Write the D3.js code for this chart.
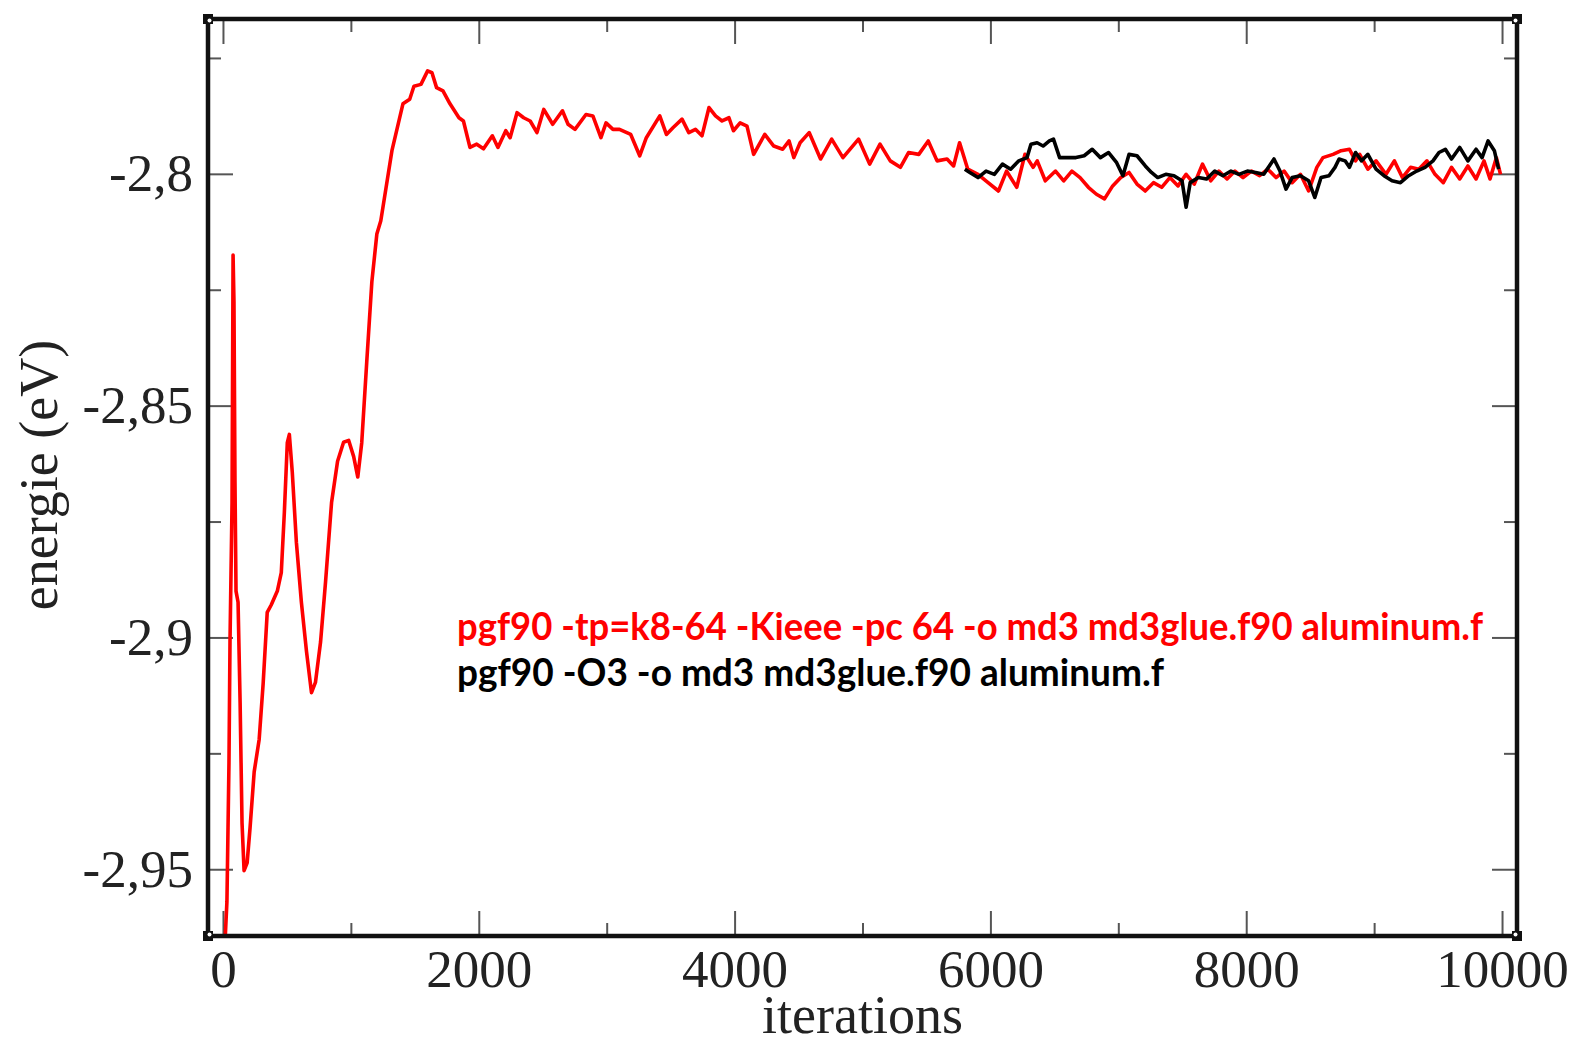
<!DOCTYPE html>
<html><head><meta charset="utf-8">
<script src="https://cdn.jsdelivr.net/npm/d3@7"></script>
<style>html,body{margin:0;padding:0;background:#fff;overflow:hidden}</style>
</head><body>
<svg id="chart" width="1576" height="1045"></svg>
<script>
// ---- data ----
const redIter = [0,31,47,55,71,79,86,94,102,118,134,149,165,189,212,244,283,314,346,377,425,456,480,503,519,542,574,613,653,692,723,763,802,849,896,943,983,1022,1054,1085,1124,1164,1203,1234,1321,1407,1460,1493,1548,1600,1634,1670,1720,1775,1845,1880,1931,1984,2037,2106,2150,2211,2245,2299,2351,2402,2455,2508,2578,2654,2698,2752,2838,2892,2955,2995,3049,3100,3188,3258,3310,3415,3467,3520,3589,3642,3694,3745,3800,3851,3902,3956,3991,4043,4097,4149,4236,4306,4376,4426,4463,4512,4583,4672,4759,4847,4969,5056,5137,5217,5296,5360,5440,5514,5583,5661,5712,5759,5823,5903,5982,6063,6126,6206,6270,6334,6366,6429,6509,6573,6637,6701,6766,6829,6892,6956,7019,7084,7146,7210,7275,7339,7403,7467,7530,7594,7658,7722,7786,7850,7912,7975,8041,8105,8169,8233,8296,8359,8424,8488,8552,8600,8679,8742,8807,8855,8887,8951,9015,9093,9158,9221,9285,9349,9413,9476,9541,9605,9669,9733,9797,9859,9906,9956,9988];
const redEnergy = [-2.975,-2.957,-2.927,-2.901,-2.871,-2.8175,-2.8276,-2.8665,-2.890,-2.8924,-2.914,-2.940,-2.9503,-2.9486,-2.941,-2.929,-2.922,-2.910,-2.8946,-2.893,-2.890,-2.886,-2.873,-2.858,-2.8562,-2.8644,-2.8795,-2.8924,-2.903,-2.9119,-2.9097,-2.901,-2.888,-2.8709,-2.862,-2.8579,-2.8575,-2.861,-2.8654,-2.858,-2.8406,-2.8233,-2.8130,-2.8101,-2.795,-2.7849,-2.7839,-2.7811,-2.7807,-2.7778,-2.7782,-2.7814,-2.7821,-2.7849,-2.7879,-2.7886,-2.7943,-2.7936,-2.7946,-2.7918,-2.7943,-2.7907,-2.7922,-2.7868,-2.7879,-2.7886,-2.7911,-2.7861,-2.7893,-2.7864,-2.7893,-2.7904,-2.7872,-2.7875,-2.7922,-2.7890,-2.7904,-2.7904,-2.7915,-2.7961,-2.7922,-2.7875,-2.7915,-2.7900,-2.7882,-2.7911,-2.7904,-2.7918,-2.7857,-2.7875,-2.7886,-2.7879,-2.7907,-2.7890,-2.7897,-2.7958,-2.7915,-2.7940,-2.7947,-2.7929,-2.7965,-2.7933,-2.7911,-2.7968,-2.7925,-2.7965,-2.7925,-2.7979,-2.7936,-2.7972,-2.7986,-2.7954,-2.7958,-2.7929,-2.7972,-2.7968,-2.7983,-2.7933,-2.7990,-2.8001,-2.8019,-2.8037,-2.7994,-2.8029,-2.7958,-2.7986,-2.7972,-2.8015,-2.7994,-2.8015,-2.7994,-2.8008,-2.8029,-2.8044,-2.8054,-2.8026,-2.8008,-2.7997,-2.8022,-2.8037,-2.8019,-2.8029,-2.8008,-2.8026,-2.8001,-2.8022,-2.7979,-2.8015,-2.7994,-2.8011,-2.7994,-2.8008,-2.7994,-2.8004,-2.7990,-2.8008,-2.7994,-2.8019,-2.8001,-2.8037,-2.7986,-2.7965,-2.7958,-2.7950,-2.7947,-2.7972,-2.7958,-2.7990,-2.7972,-2.8001,-2.7972,-2.8008,-2.7986,-2.7990,-2.7972,-2.8001,-2.8019,-2.7986,-2.8011,-2.7983,-2.8011,-2.7972,-2.8011,-2.7965,-2.8001];
const blackIter = [5800,5839,5903,5966,6031,6094,6158,6222,6286,6317,6365,6412,6461,6493,6541,6605,6669,6733,6796,6860,6924,6987,7036,7084,7146,7211,7259,7308,7371,7435,7498,7530,7562,7626,7690,7754,7818,7881,7943,8009,8073,8137,8217,8264,8311,8359,8424,8488,8536,8585,8647,8694,8726,8773,8807,8855,8902,8951,9015,9077,9140,9206,9270,9333,9398,9460,9507,9557,9605,9669,9733,9797,9844,9891,9940,9973];
const blackEnergy = [-2.7990,-2.7997,-2.8008,-2.7994,-2.8001,-2.7979,-2.7990,-2.7972,-2.7965,-2.7936,-2.7933,-2.7940,-2.7929,-2.7925,-2.7965,-2.7965,-2.7965,-2.7961,-2.7947,-2.7965,-2.7954,-2.7976,-2.8004,-2.7958,-2.7961,-2.7983,-2.7997,-2.8008,-2.8001,-2.8004,-2.8015,-2.8072,-2.8019,-2.8008,-2.8011,-2.7994,-2.8004,-2.7994,-2.8001,-2.7994,-2.7997,-2.8001,-2.7968,-2.7994,-2.8033,-2.8008,-2.8004,-2.8015,-2.8051,-2.8008,-2.8004,-2.7986,-2.7968,-2.7972,-2.7986,-2.7954,-2.7972,-2.7958,-2.7990,-2.8004,-2.8015,-2.8019,-2.8004,-2.7994,-2.7986,-2.7972,-2.7954,-2.7947,-2.7968,-2.7943,-2.7972,-2.7947,-2.7965,-2.7929,-2.7950,-2.7990];
const xMajorTicks = [0,2000,4000,6000,8000,10000];
const xMinorTicks = [1000,3000,5000,7000,9000];
const yMajorTicks = [-2.95,-2.9,-2.85,-2.8];
const yMinorTicks = [-2.925,-2.875,-2.825,-2.775];
const xDomain = [-117, 10117];
const yDomain = [-2.9644, -2.7666];
const xTitle = "iterations";
const yTitle = "energie (eV)";
const legendLabels = ["pgf90 -tp=k8-64 -Kieee -pc 64 -o md3 md3glue.f90 aluminum.f",
                      "pgf90 -O3 -o md3 md3glue.f90 aluminum.f"];
const seriesColors = ["#ff0000", "#000000"];

// ---- layout ----
const L = 208, R = 1517, T = 19, B = 936;
const svg = d3.select("#chart");
const x = d3.scaleLinear().domain(xDomain).range([L, R]);
const y = d3.scaleLinear().domain(yDomain).range([B, T]);

const loc = d3.formatLocale({decimal: ",", thousands: "", grouping: [3], currency: ["", ""], minus: "-"});
const yFmt = loc.format("~r");
const xFmt = loc.format("d");

const serif = "'Liberation Serif','Times New Roman',serif";

svg.append("clipPath").attr("id", "clip").append("rect")
  .attr("x", L).attr("y", T).attr("width", R - L).attr("height", B - T);

function styleTicks(g) {
  g.select(".domain").remove();
  g.selectAll(".tick line").attr("stroke", "#555").attr("stroke-width", 2);
}

const gxB = svg.append("g").attr("transform", `translate(0,${B})`)
  .call(d3.axisBottom(x).tickValues(xMajorTicks).tickSizeInner(-25).tickSizeOuter(0).tickPadding(0).tickFormat(xFmt));
styleTicks(gxB);
gxB.selectAll(".tick text").attr("y", 51).attr("dy", 0).attr("font-family", serif).attr("font-size", 53).attr("fill", "#222");
svg.append("g").attr("transform", `translate(0,${B})`)
  .call(d3.axisBottom(x).tickValues(xMinorTicks).tickSizeInner(-13).tickSizeOuter(0).tickFormat(""))
  .call(styleTicks);
svg.append("g").attr("transform", `translate(0,${T})`)
  .call(d3.axisTop(x).tickValues(xMajorTicks).tickSizeInner(-25).tickSizeOuter(0).tickFormat(""))
  .call(styleTicks);
svg.append("g").attr("transform", `translate(0,${T})`)
  .call(d3.axisTop(x).tickValues(xMinorTicks).tickSizeInner(-13).tickSizeOuter(0).tickFormat(""))
  .call(styleTicks);
const gyL = svg.append("g").attr("transform", `translate(${L},0)`)
  .call(d3.axisLeft(y).tickValues(yMajorTicks).tickSizeInner(-25).tickSizeOuter(0).tickPadding(0).tickFormat(yFmt));
styleTicks(gyL);
gyL.selectAll(".tick text").attr("x", -15).attr("dy", "0.32em").attr("font-family", serif).attr("font-size", 53).attr("fill", "#222");
svg.append("g").attr("transform", `translate(${L},0)`)
  .call(d3.axisLeft(y).tickValues(yMinorTicks).tickSizeInner(-13).tickSizeOuter(0).tickFormat(""))
  .call(styleTicks);
svg.append("g").attr("transform", `translate(${R},0)`)
  .call(d3.axisRight(y).tickValues(yMajorTicks).tickSizeInner(-25).tickSizeOuter(0).tickFormat(""))
  .call(styleTicks);
svg.append("g").attr("transform", `translate(${R},0)`)
  .call(d3.axisRight(y).tickValues(yMinorTicks).tickSizeInner(-13).tickSizeOuter(0).tickFormat(""))
  .call(styleTicks);

const line = d3.line().x(d => x(d[0])).y(d => y(d[1]));
const redData = redIter.map((v, i) => [v, redEnergy[i]]);
const blackData = blackIter.map((v, i) => [v, blackEnergy[i]]);
const plot = svg.append("g").attr("clip-path", "url(#clip)");
plot.append("path").datum(redData).attr("d", line).attr("fill", "none")
  .attr("stroke", seriesColors[0]).attr("stroke-width", 3.6).attr("stroke-linejoin", "round");
plot.append("path").datum(blackData).attr("d", line).attr("fill", "none")
  .attr("stroke", seriesColors[1]).attr("stroke-width", 3.6).attr("stroke-linejoin", "round");

svg.append("rect").attr("x", L).attr("y", T).attr("width", R - L).attr("height", B - T)
  .attr("fill", "none").attr("stroke", "#111").attr("stroke-width", 4.5);
[[L, T], [R, T], [L, B], [R, B]].forEach(([cx, cy]) => {
  svg.append("rect").attr("x", cx - 5).attr("y", cy - 5).attr("width", 10).attr("height", 10).attr("fill", "#111");
  svg.append("circle").attr("cx", cx + (cx === L ? 1.5 : -1.5)).attr("cy", cy + (cy === T ? 1.5 : -1.5)).attr("r", 2).attr("fill", "#fff");
});

svg.append("text").attr("x", (x(0) + x(10000)) / 2).attr("y", 1033).attr("text-anchor", "middle")
  .attr("font-family", serif).attr("font-size", 54).attr("fill", "#222").text(xTitle);
svg.append("text").attr("transform", `translate(57,${475}) rotate(-90)`).attr("text-anchor", "middle")
  .attr("font-family", serif).attr("font-size", 54).attr("fill", "#222").text(yTitle);

const legendWidths = [1026, 707];
const legendY = [640, 686];
legendLabels.forEach((t, i) => {
  svg.append("text").attr("x", 457).attr("y", legendY[i])
    .attr("font-family", "Lato, 'Open Sans', sans-serif").attr("font-weight", "bold").attr("font-size", 38)
    .attr("fill", seriesColors[i]).attr("textLength", legendWidths[i]).attr("lengthAdjust", "spacingAndGlyphs")
    .text(t);
});
</script>
</body></html>
